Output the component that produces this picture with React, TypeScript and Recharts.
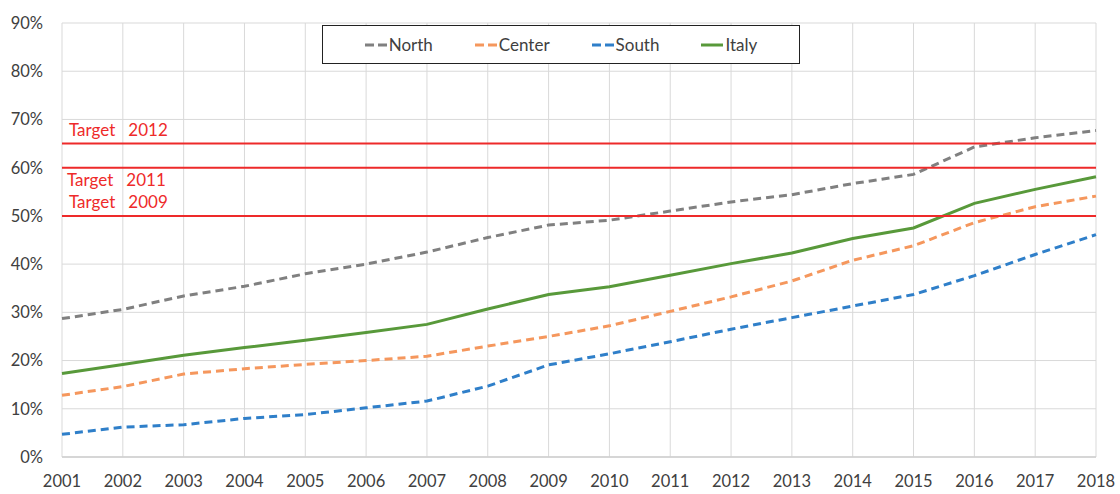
import React from "react";
import {
  CartesianGrid,
  Legend,
  Line,
  LineChart,
  ReferenceLine,
  XAxis,
  YAxis,
} from "recharts";

// Quota di raccolta differenziata per area geografica, 2001-2018 (%).
const YEARS = [
  2001, 2002, 2003, 2004, 2005, 2006, 2007, 2008, 2009, 2010, 2011, 2012,
  2013, 2014, 2015, 2016, 2017, 2018,
];
const NORTH = [
  28.7, 30.6, 33.4, 35.4, 38.0, 40.0, 42.5, 45.5, 48.1, 49.1, 51.0, 52.9,
  54.4, 56.7, 58.6, 64.3, 66.2, 67.7,
];
const CENTER = [
  12.8, 14.6, 17.2, 18.3, 19.2, 20.0, 20.9, 23.0, 25.0, 27.2, 30.2, 33.2,
  36.5, 40.8, 43.8, 48.6, 51.9, 54.1,
];
const SOUTH = [
  4.7, 6.2, 6.7, 8.0, 8.8, 10.2, 11.6, 14.7, 19.1, 21.4, 23.9, 26.5, 28.9,
  31.3, 33.7, 37.6, 42.0, 46.1,
];
const ITALY = [
  17.3, 19.2, 21.1, 22.7, 24.2, 25.8, 27.5, 30.7, 33.7, 35.3, 37.7, 40.1,
  42.3, 45.3, 47.5, 52.6, 55.5, 58.1,
];
const Y_TICKS = [0, 10, 20, 30, 40, 50, 60, 70, 80, 90];

const TARGETS = [
  { y: 65, label: "Target\u00a0\u00a0 2012", pos: "insideBottomLeft", offset: 8 },
  { y: 60, label: "Target\u00a0\u00a0 2011", pos: "insideTopLeft", offset: 6 },
  { y: 50, label: "Target\u00a0\u00a0 2009", pos: "insideBottomLeft", offset: 8 },
];

const SERIES = [
  { key: "north", name: "North", color: "#808080", dash: "8 5", values: NORTH },
  { key: "center", name: "Center", color: "#f5975d", dash: "8 5", values: CENTER },
  { key: "south", name: "South", color: "#2f7fc9", dash: "8 5", values: SOUTH },
  { key: "italy", name: "Italy", color: "#58993a", dash: undefined, values: ITALY },
];

const data = YEARS.map((year, i) => {
  const row: Record<string, number> = { year };
  SERIES.forEach((s) => (row[s.key] = s.values[i]));
  return row;
});

const FONT = "Lato, 'Open Sans', sans-serif";
const TEXT = "#404040";
const GRID = "#d9d9d9";
const RED = "#ee2a2a";

function LegendBox() {
  return (
    <div
      style={{
        width: 476,
        height: 37,
        border: "1px solid #222",
        background: "#fff",
        display: "flex",
        alignItems: "center",
        justifyContent: "center",
        gap: 42,
        fontFamily: FONT,
        fontSize: 17,
        color: TEXT,
      }}
    >
      {SERIES.map((s) => (
        <div key={s.key} style={{ display: "flex", alignItems: "center" }}>
          <svg width={22} height={10} style={{ marginRight: 2 }}>
            <line
              x1={0}
              y1={5}
              x2={22}
              y2={5}
              stroke={s.color}
              strokeWidth={3}
              strokeDasharray={s.dash ? "9 4" : undefined}
            />
          </svg>
          <span>{s.name}</span>
        </div>
      ))}
    </div>
  );
}

export default function App() {
  return (
    <div style={{ position: "absolute", left: 0, top: 0, background: "#fff" }}>
      <LineChart
        width={1120}
        height={494}
        data={data}
        margin={{ top: 23, right: 24, bottom: 0, left: 0 }}
        style={{ fontFamily: FONT }}
      >
        <CartesianGrid stroke={GRID} strokeWidth={1} />
        <XAxis
          dataKey="year"
          height={37}
          tickLine={false}
          tickSize={0}
          tickMargin={18}
          axisLine={{ stroke: "#cfcfcf", strokeWidth: 1.5 }}
          tick={{ fill: TEXT, fontSize: 16.5 }}
          interval={0}
        />
        <YAxis
          width={62}
          domain={[0, 90]}
          ticks={Y_TICKS}
          tickFormatter={(v) => `${v}%`}
          tickLine={false}
          axisLine={false}
          tickSize={0}
          tickMargin={19}
          tick={{ fill: TEXT, fontSize: 16.5 }}
        />
        <Legend
          layout="horizontal"
          verticalAlign="middle"
          align="center"
          content={() => <LegendBox />}
          wrapperStyle={{ left: 322, top: 25, width: 478, height: 39 }}
        />
        {SERIES.map((s) => (
          <Line
            key={s.key}
            type="linear"
            dataKey={s.key}
            name={s.name}
            stroke={s.color}
            strokeWidth={3}
            strokeDasharray={s.dash}
            dot={false}
            activeDot={false}
            isAnimationActive={false}
          />
        ))}
        {TARGETS.map((t) => (
          <ReferenceLine
            key={t.y}
            y={t.y}
            stroke={RED}
            strokeWidth={2}
            label={{
              value: t.label,
              position: t.pos as any,
              fill: RED,
              fontSize: 17,
              offset: t.offset,
              dx: -1,
            }}
          />
        ))}
      </LineChart>
    </div>
  );
}
